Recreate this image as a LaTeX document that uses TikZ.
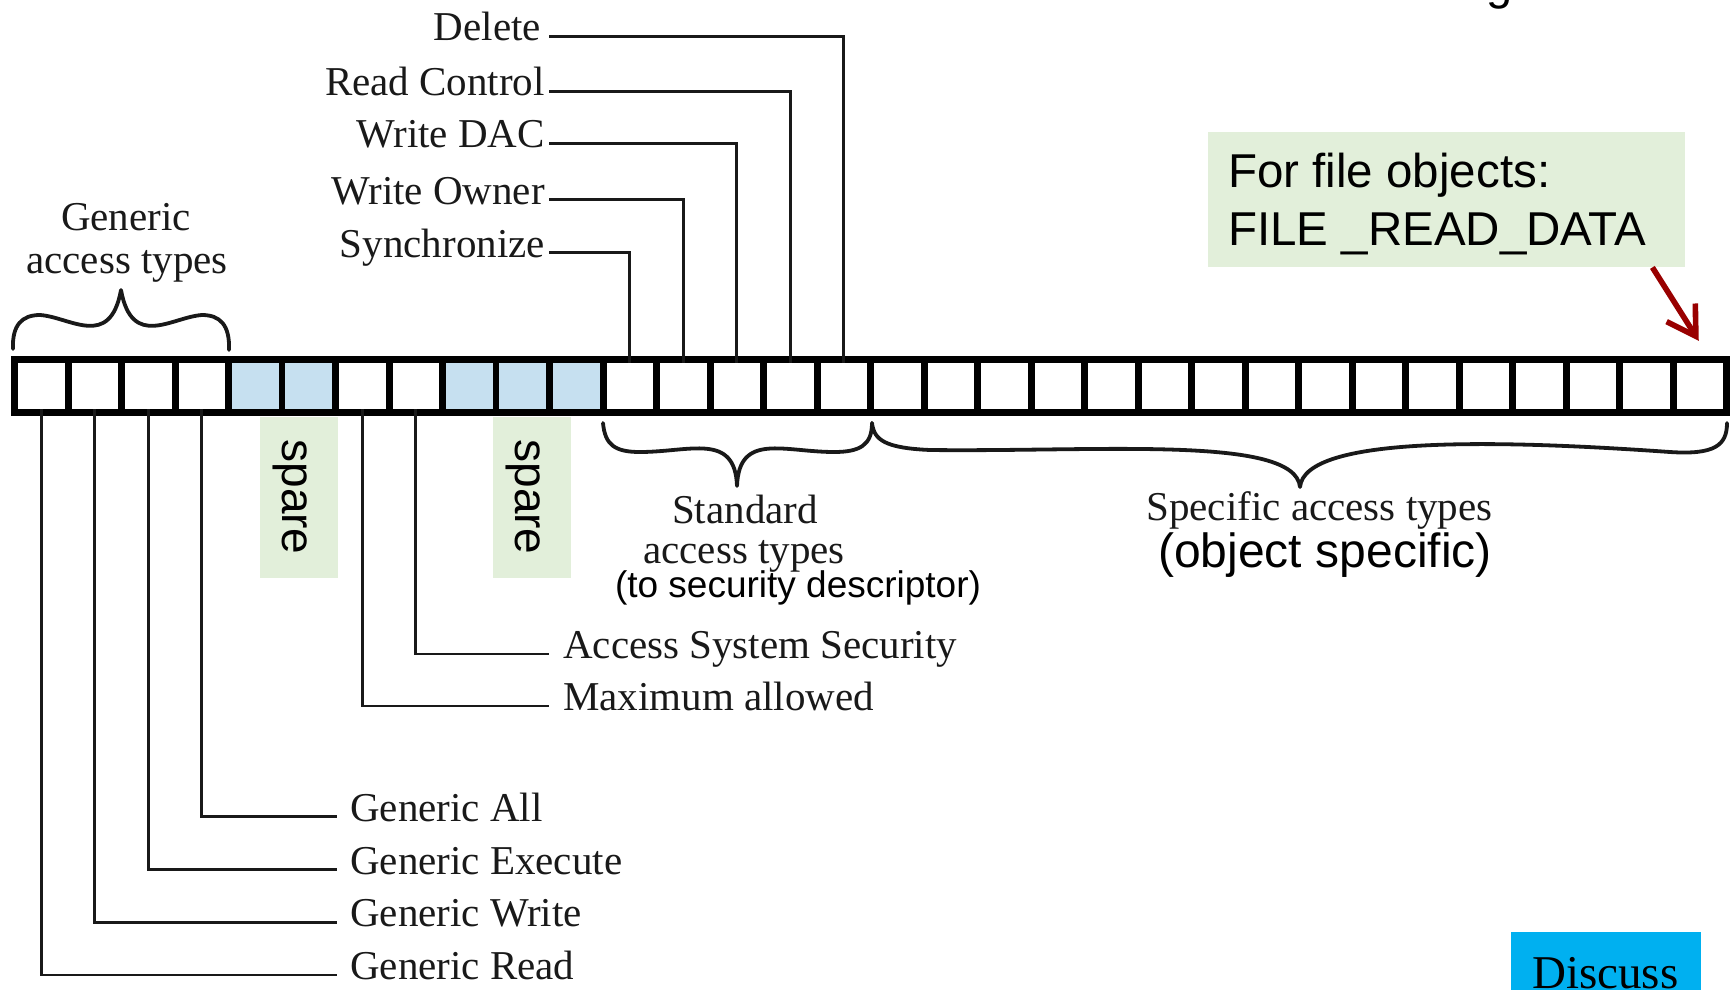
\documentclass[tikz,border=0pt]{standalone}
\usepackage{fontspec}
\setmainfont{Liberation Serif}
\newfontfamily\arialfont{Liberation Sans}
\usetikzlibrary{arrows.meta}

\definecolor{spareblue}{RGB}{198,224,240}
\definecolor{sparegreen}{RGB}{226,239,218}
\definecolor{arrowred}{RGB}{153,0,0}
\definecolor{discussblue}{RGB}{0,176,240}
\definecolor{ink}{RGB}{25,25,25}

\newcommand\serifsz{\fontsize{41}{46}\selectfont}

\begin{document}
\begin{tikzpicture}[x=1pt,y=-1pt,
  cell/.style={rectangle, inner sep=0pt, minimum width=46.5pt, minimum height=46pt, fill=white},
  lbl/.style={inner sep=0pt, text=ink, font=\serifsz},
  sanslbl/.style={inner sep=0pt, text=black},
  wire/.style={draw=ink, line width=2.6pt},
  brace/.style={draw=ink, line width=3.8pt, line cap=round, line join=round},
  panel/.style={inner sep=0pt, anchor=north west},
  redarrow/.style={draw=arrowred, line width=5.6pt, -{Straight Barb[length=28pt,width=34pt]}}
]
\useasboundingbox (0,0) rectangle (1730,989);

% the 32-bit access mask
\node[fill=black, inner sep=0pt, minimum width=1720pt, minimum height=60pt, anchor=north west] (bar) at (11,356) {};
\foreach \i in {0,...,31}{
  \pgfmathsetmacro\cx{14.5+53.5*(\i+0.5)}
  \node[cell] (c\i) at (\cx,386) {};
}
\foreach \i in {4,5,8,9,10}{
  \fill[spareblue] (c\i.south west) rectangle (c\i.north east);
}

% spare markers
\node[panel, fill=sparegreen, minimum width=78pt, minimum height=161pt] (sp1) at (260,417) {};
\node[sanslbl, rotate=-90, font=\arialfont\fontsize{46}{46}\selectfont] (sp1t) at (290,497) {spare};
\node[panel, fill=sparegreen, minimum width=78pt, minimum height=161pt] (sp2) at (493,417) {};
\node[sanslbl, rotate=-90, font=\arialfont\fontsize{46}{46}\selectfont] (sp2t) at (523,497) {spare};

% standard rights
\node[lbl, anchor=base east] (del)  at (541,40.8) {Delete};
\node[lbl, anchor=base east] (rc)   at (545,95)   {Read Control};
\node[lbl, anchor=base east] (wdac) at (545,147.8) {Write DAC};
\node[lbl, anchor=base east] (wown) at (545,204)  {Write Owner};
\node[lbl, anchor=base east] (sync) at (545,257)  {Synchronize};

\draw[wire] ([xshift=8pt,yshift=4.4pt]del.base east)  -| (c15.north);
\draw[wire] ([xshift=4pt,yshift=3.4pt]rc.base east)   -| (c14.north);
\draw[wire] ([xshift=4pt,yshift=4.4pt]wdac.base east) -| (c13.north);
\draw[wire] ([xshift=4pt,yshift=4.4pt]wown.base east) -| (c12.north);
\draw[wire] ([xshift=4pt,yshift=4.4pt]sync.base east) -| (c11.north);

% generic rights
\node[lbl, anchor=base] (gen1) at (126,230) {Generic};
\node[lbl, anchor=base] (gen2) at (127,273) {access types};
\draw[brace] (13,349) .. controls (12,325) and (22,315) .. (40,315)
  .. controls (70,317) and (110,350) .. (121,290)
  .. controls (132,350) and (172,317) .. (202,315)
  .. controls (220,315) and (230,325) .. (229,350);

\node[lbl, anchor=base west] (gall)  at (350,821)   {Generic All};
\node[lbl, anchor=base west] (gexe)  at (350,874)   {Generic Execute};
\node[lbl, anchor=base west] (gwri)  at (350,926.8) {Generic Write};
\node[lbl, anchor=base west] (gread) at (350,979.4) {Generic Read};

\draw[wire] (c3.south) |- ([xshift=-13pt,yshift=4.4pt]gall.base west);
\draw[wire] (c2.south) |- ([xshift=-13pt,yshift=4.4pt]gexe.base west);
\draw[wire] (c1.south) |- ([xshift=-13pt,yshift=4.4pt]gwri.base west);
\draw[wire] (c0.south) |- ([xshift=-13pt,yshift=4.4pt]gread.base west);

% special bits
\node[lbl, anchor=base west] (ass)   at (563,658.4) {Access System Security};
\node[lbl, anchor=base west] (maxal) at (563,710.4) {Maximum allowed};
\draw[wire] (c7.south) |- ([xshift=-14pt,yshift=4.4pt]ass.base west);
\draw[wire] (c6.south) |- ([xshift=-14pt,yshift=4.4pt]maxal.base west);

% standard group
\draw[brace] (603,423) .. controls (605,445) and (615,452) .. (640,452)
  .. controls (690,452) and (735,432) .. (737,486)
  .. controls (739,432) and (784,452) .. (834,452)
  .. controls (860,452) and (872,445) .. (872,423);
\node[lbl, anchor=base] (std1) at (745,523) {Standard};
\node[lbl, anchor=base] (std2) at (744,563) {access types};
\node[sanslbl, anchor=base, font=\arialfont\fontsize{37}{37}\selectfont] (std3) at (798,597) {(to security descriptor)};

% specific group
\draw[brace] (872,423) .. controls (874,440) and (885,448) .. (930,450)
  .. controls (1100,452) and (1295,435) .. (1300,487)
  .. controls (1305,435) and (1500,440) .. (1670,452)
  .. controls (1715,455) and (1727,445) .. (1727,423);
\node[lbl, anchor=base] (spec1) at (1319.5,520) {Specific access types};
\node[sanslbl, anchor=base, font=\arialfont\fontsize{48}{48}\selectfont] (spec2) at (1325,567) {(object specific)};

% file object note
\node[panel, fill=sparegreen, minimum width=477pt, minimum height=135pt] (fobox) at (1208,132) {};
\node[sanslbl, anchor=base west, font=\arialfont\fontsize{47.5}{58}\selectfont] (fo1) at (1228,187.6) {For file objects:};
\node[sanslbl, anchor=base west, font=\arialfont\fontsize{47.5}{58}\selectfont] (fo2) at (1228,245.6) {FILE \_READ\_DATA};
\draw[redarrow] ([xshift=-33pt]fobox.south east) -- ([xshift=-1pt,yshift=22pt]c31.north);

% heading descender at the top edge
\node[sanslbl, anchor=base west, font=\arialfont\fontsize{47}{47}\selectfont] (frag) at (1486,-1) {g};

% discussion tag
\node[panel, fill=discussblue, minimum width=190pt, minimum height=80pt] (disc) at (1511,932) {};
\node[lbl, anchor=base west, font=\fontsize{47}{47}\selectfont, text=black] (disct) at (1532,988) {Discuss};
\end{tikzpicture}
\end{document}
